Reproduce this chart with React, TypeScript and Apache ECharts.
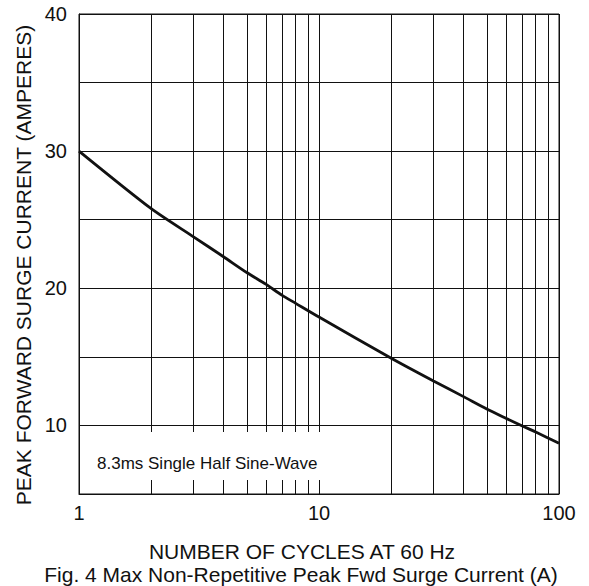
import React, { useEffect, useRef } from "react";
import * as echarts from "echarts";

const cycles = [1, 2, 3, 4, 5, 6, 7, 8, 10, 20, 30, 40, 50, 60, 70, 80, 100];
const surgeCurrent = [30, 25.8, 23.75, 22.3, 21.15, 20.3, 19.5, 18.9, 17.9, 14.9, 13.24, 12.1, 11.2, 10.53, 9.98, 9.52, 8.7];
const minorGridX = [2, 3, 4, 5, 6, 7, 8, 9, 20, 30, 40, 50, 60, 70, 80, 90];
const yTicks = [10, 20, 30, 40];

const yAxisTitle = "PEAK FORWARD SURGE CURRENT (AMPERES)";
const xAxisTitle = "NUMBER OF CYCLES AT 60 Hz";
const figCaption = "Fig. 4 Max Non-Repetitive Peak Fwd Surge Current (A)";
const noteText = "8.3ms Single Half Sine-Wave";

const FONT = "'Liberation Sans', Arial, sans-serif";

export default function App() {
  const ref = useRef<HTMLDivElement>(null);
  useEffect(() => {
    if (!ref.current) return;
    const chart = echarts.init(ref.current, null, { renderer: "svg" });
    const grid = { left: 79, top: 14, right: 30, bottom: 92 };
    chart.setOption({
      animation: false,
      backgroundColor: "#fff",
      textStyle: { fontFamily: FONT },
      grid: { ...grid, show: true, borderColor: "#111", borderWidth: 1, backgroundColor: "transparent" },
      xAxis: {
        type: "log",
        logBase: 10,
        min: 1,
        max: 100,
        axisLine: { show: true, lineStyle: { color: "#111", width: 1 } },
        axisTick: { show: false },
        minorTick: { show: false },
        axisLabel: { color: "#111", fontSize: 20, fontFamily: FONT, margin: 9 },
        splitLine: { show: true, lineStyle: { color: "#111", width: 1 } },
      },
      yAxis: {
        type: "value",
        min: 5,
        max: 40,
        interval: 5,
        axisLine: { show: true, lineStyle: { color: "#111", width: 1 } },
        axisTick: { show: false },
        axisLabel: {
          color: "#111",
          fontSize: 20,
          fontFamily: FONT,
          margin: 12,
          formatter: (v: number) => (yTicks.includes(v) ? String(v) : ""),
        },
        splitLine: { show: true, lineStyle: { color: "#111", width: 1 } },
      },
      series: [
        {
          type: "line",
          data: cycles.map((c, i) => [c, surgeCurrent[i]]),
          smooth: 0.25,
          showSymbol: false,
          lineStyle: { color: "#111", width: 2.8 },
          z: 5,
          markLine: {
            silent: true,
            symbol: ["none", "none"],
            label: { show: false },
            lineStyle: { color: "#111", width: 1, type: "solid" },
            data: minorGridX.map((x) => ({ xAxis: x })),
            z: 1,
          },
        },
      ],
      graphic: [
        {
          type: "rect",
          z: 100,
          shape: { x: 80, y: 432, width: 242, height: 48 },
          style: { fill: "#fff" },
        },
        {
          type: "text",
          z: 101,
          x: 97,
          y: 463,
          style: {
            text: noteText,
            fontSize: 17,
            fontFamily: FONT,
            fill: "#111",
            textAlign: "left",
            textVerticalAlign: "middle",
          },
        },
        {
          type: "text",
          z: 101,
          x: 23,
          y: 265,
          rotation: Math.PI / 2,
          style: {
            text: yAxisTitle,
            fontSize: 21,
            fontFamily: FONT,
            fill: "#111",
            textAlign: "center",
            textVerticalAlign: "middle",
          },
        },
        {
          type: "text",
          z: 101,
          x: 302,
          y: 551,
          style: {
            text: xAxisTitle,
            fontSize: 21,
            fontFamily: FONT,
            fill: "#111",
            textAlign: "center",
            textVerticalAlign: "middle",
          },
        },
        {
          type: "text",
          z: 101,
          x: 301,
          y: 574,
          style: {
            text: figCaption,
            fontSize: 21,
            fontFamily: FONT,
            fill: "#111",
            textAlign: "center",
            textVerticalAlign: "middle",
          },
        },
      ],
    });
    return () => chart.dispose();
  }, []);
  return (
    <div
      ref={ref}
      style={{ position: "fixed", left: 0, top: 0, width: 589, height: 586, background: "#fff" }}
    />
  );
}
